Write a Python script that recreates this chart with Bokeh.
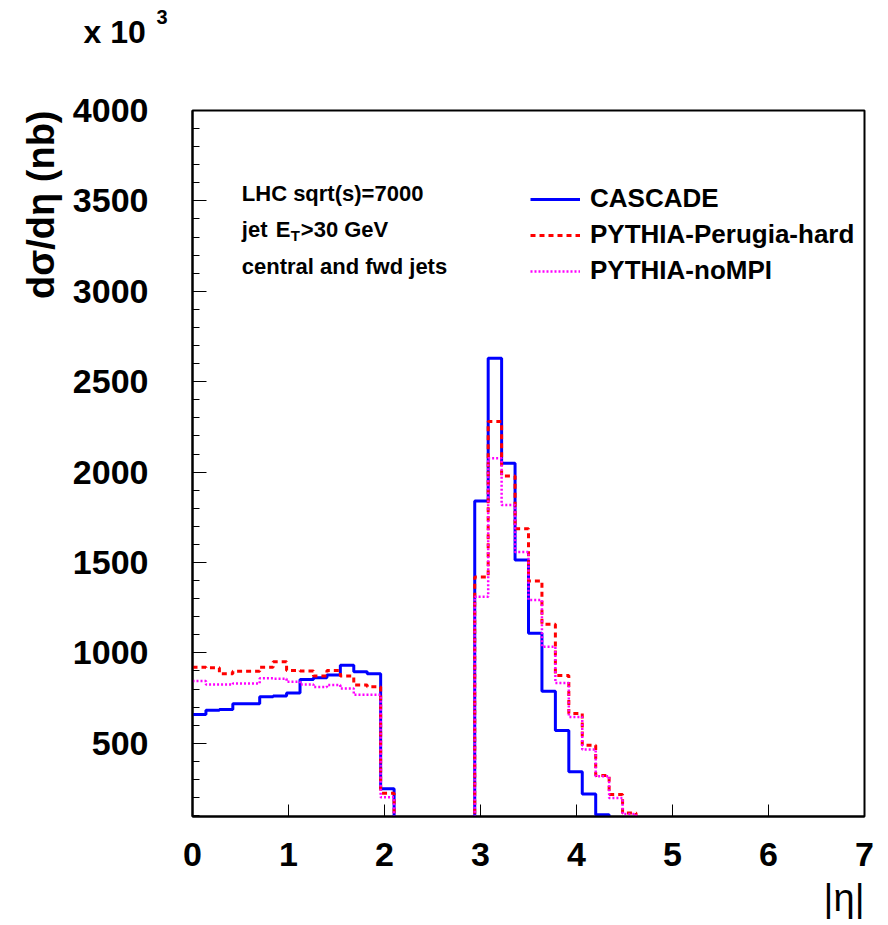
from bokeh.plotting import figure
from bokeh.models import Range1d, FixedTicker, Label, Legend, LegendItem, Title
from bokeh.embed import file_html
from bokeh.resources import INLINE

# ---- data: 50 bins of width 0.14 in |eta| from 0 to 7 ----
bin_edges = [round(i * 0.14, 2) for i in range(51)]

cascade = [659, 683, 687, 718, 718, 757, 761, 778, 853, 862,
           877, 932, 895, 884, 248, 0, 0, 0, 0, 0,
           0, 1840, 2630, 2049, 1514, 1108, 788, 571, 342, 220,
           105, 40, 12, 0, 0, 0, 0, 0, 0, 0,
           0, 0, 0, 0, 0, 0, 0, 0, 0, 0]

perugia_hard = [921, 918, 884, 899, 899, 921, 951, 903, 900, 872,
                903, 872, 822, 812, 224, 0, 0, 0, 0, 0,
                0, 1420, 2280, 1979, 1687, 1398, 1158, 875, 665, 489,
                322, 216, 115, 30, 5, 0, 0, 0, 0, 0,
                0, 0, 0, 0, 0, 0, 0, 0, 0, 0]

no_mpi = [844, 825, 825, 831, 831, 859, 857, 840, 825, 811,
          822, 803, 768, 768, 201, 0, 0, 0, 0, 0,
          0, 1311, 2077, 1818, 1558, 1292, 1034, 834, 646, 465,
          318, 198, 109, 25, 5, 0, 0, 0, 0, 0,
          0, 0, 0, 0, 0, 0, 0, 0, 0, 0]

series_names = ["CASCADE", "PYTHIA-Perugia-hard", "PYTHIA-noMPI"]
y_ticks = [500, 1000, 1500, 2000, 2500, 3000, 3500, 4000]
y_minor = list(range(100, 4001, 100))
x_ticks = [0, 1, 2, 3, 4, 5, 6, 7]

FONT = "Liberation Sans"

p = figure(width=888, height=925, output_backend="svg", toolbar_location=None,
           x_range=Range1d(0, 7), y_range=Range1d(95, 4000),
           min_border_left=192, min_border_right=24,
           min_border_top=110, min_border_bottom=109)
p.background_fill_color = "white"
p.border_fill_color = "white"
p.grid.visible = False
p.outline_line_color = "black"
p.outline_line_width = 2

# axes
p.yaxis.ticker = FixedTicker(ticks=y_ticks, minor_ticks=y_minor)
p.xaxis.ticker = FixedTicker(ticks=x_ticks, minor_ticks=[])
for ax in (p.xaxis[0], p.yaxis[0]):
    ax.axis_line_width = 2
    ax.axis_line_color = "black"
    ax.major_tick_out = 0
    ax.minor_tick_out = 0
    ax.major_tick_line_color = "black"
    ax.minor_tick_line_color = "black"
    ax.major_label_text_font = FONT
    ax.major_label_text_font_style = "bold"
    ax.major_label_text_font_size = "34px"
    ax.major_label_text_color = "black"
p.yaxis.major_tick_in = 14
p.yaxis.minor_tick_in = 7
p.yaxis.major_label_standoff = 44
p.xaxis.major_tick_in = 12
p.xaxis.minor_tick_in = 0
p.xaxis.major_label_standoff = 26

# histograms
r1 = p.step(x=bin_edges, y=cascade + [cascade[-1]], mode="after",
            line_color="#0000ff", line_width=3)
r2 = p.step(x=bin_edges, y=perugia_hard + [perugia_hard[-1]], mode="after",
            line_color="#ff0000", line_width=3, line_dash="5 4")
r3 = p.step(x=bin_edges, y=no_mpi + [no_mpi[-1]], mode="after",
            line_color="#ff00ff", line_width=2.5, line_dash="2 2")

legend = Legend(items=[LegendItem(label=series_names[0], renderers=[r1]),
                       LegendItem(label=series_names[1], renderers=[r2]),
                       LegendItem(label=series_names[2], renderers=[r3])],
                location=(338, 530), orientation="vertical",
                padding=0, margin=0, spacing=5,
                label_height=30, glyph_height=30, glyph_width=50,
                label_standoff=10,
                label_text_font=FONT, label_text_font_style="bold",
                label_text_font_size="26px", label_text_color="black",
                background_fill_alpha=0, border_line_alpha=0)
p.add_layout(legend, "center")

# axis titles as side-panel titles
p.add_layout(Title(text="dσ/dη (nb)", align="right", standoff=16,
                   text_font=FONT, text_font_style="bold", text_font_size="38px",
                   text_color="black"), "left")
p.add_layout(Title(text="|η|", align="right", standoff=12,
                   text_font=FONT, text_font_style="normal", text_font_size="38px",
                   text_color="black"), "below")

# exponent "x 10^3" above the frame: spacer, base text, superscript
p.add_layout(Title(text=" ", standoff=37, text_font=FONT, text_font_size="20px"), "above")
p.add_layout(Title(text="x 10", align="left", offset=-109, standoff=0,
                   text_font=FONT, text_font_style="bold", text_font_size="32px",
                   text_color="black"), "above")
p.add_layout(Title(text="3", align="left", offset=-36, standoff=-24,
                   text_font=FONT, text_font_style="bold", text_font_size="20px",
                   text_color="black"), "above")


def px_x(px):
    return (px - 191.7) / 96.0


def px_y(py):
    return 4000.0 - (py - 110.0) / 0.1808


def add_label(text, px, py, size, style="bold"):
    p.add_layout(Label(x=px_x(px), y=px_y(py), text=text, text_font=FONT,
                       text_font_style=style, text_font_size=size,
                       text_align="left", text_baseline="alphabetic",
                       text_color="black"))


# info text
add_label("LHC sqrt(s)=7000", 241, 193, "22px")
add_label("jet", 241, 229, "22px")
add_label("E", 275, 229, "22px")
add_label("T", 290, 235, "15px")
add_label(">30 GeV", 300, 229, "22px")
add_label("central and fwd jets", 241, 266, "22px")

open("out.html", "w").write(file_html(p, INLINE))
